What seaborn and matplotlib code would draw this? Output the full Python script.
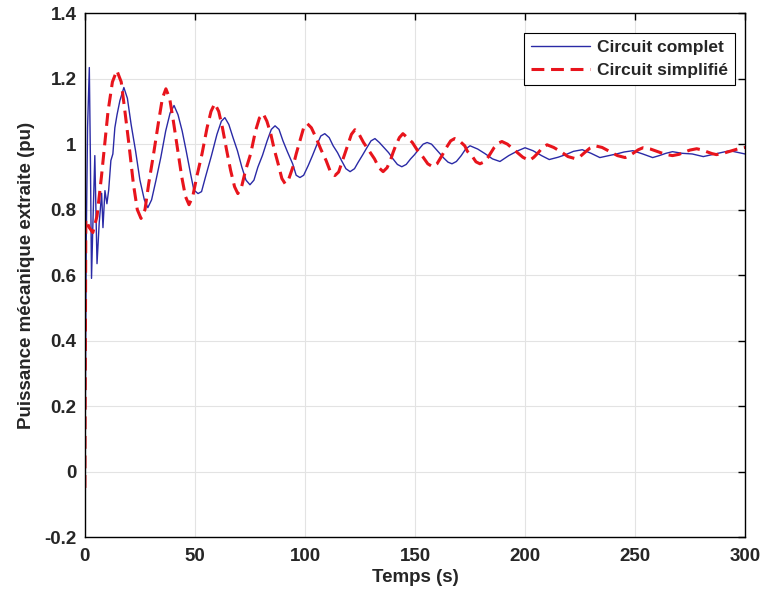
import numpy as np
import pandas as pd
import seaborn as sns
import matplotlib.pyplot as plt

# Circuit complet (blue, solid)
t_complet = [0.0, 0.6, 1.2, 2.0, 2.5, 3.0, 3.6, 4.5, 5.0, 5.5, 6.5, 7.6, 8.2, 9.1, 10.0, 10.8,
             11.8, 12.7, 13.6, 14.6, 15.9, 17.7, 19.3, 21.0, 23.0, 25.0, 27.0, 28.6, 30.3,
             32.3, 34.5, 36.7, 38.7, 40.5, 42.3, 44.2, 46.0, 48.0, 49.5, 51.4, 53.0, 54.8,
             57.5, 60.0, 62.0, 63.6, 65.4, 67.3, 69.3, 71.3, 73.2, 75.0, 76.8, 78.6, 80.7,
             82.8, 84.7, 86.4, 88.2, 90.0, 92.0, 94.4, 96.0, 97.7, 99.4, 101.5, 103.4, 105.2,
             107.2, 109.0, 111.0, 112.8, 114.8, 116.6, 118.6, 120.5, 122.5, 124.2, 126.2,
             128.2, 130.0, 131.8, 133.8, 135.8, 138.0, 140.0, 142.0, 144.0, 146.0, 148.0,
             149.8, 151.8, 153.7, 155.5, 157.5, 159.5, 161.2, 163.0, 165.0, 166.8, 168.8,
             171.0, 173.0, 175.0, 178.5, 181.8, 185.2, 188.6, 192.6, 196.8, 200.0, 203.6,
             207.5, 211.0, 215.0, 218.5, 222.0, 226.0, 230.0, 234.0, 238.0, 241.5, 245.0,
             249.0, 253.5, 258.0, 261.0, 264.0, 267.0, 271.5, 276.0, 281.0, 287.0, 293.0, 300.0]
p_complet = [-0.05, 0.70, 1.05, 1.234, 0.95, 0.59, 0.75, 0.965, 0.80, 0.635, 0.76, 0.85, 0.745,
             0.858, 0.818, 0.86, 0.95, 0.97, 1.05, 1.09, 1.133, 1.173, 1.14, 1.06, 0.98, 0.89,
             0.83, 0.806, 0.83, 0.89, 0.96, 1.04, 1.095, 1.118, 1.09, 1.04, 0.98, 0.91, 0.86,
             0.849, 0.855, 0.90, 0.965, 1.03, 1.07, 1.081, 1.06, 1.02, 0.98, 0.93, 0.89, 0.876,
             0.89, 0.93, 0.966, 1.01, 1.045, 1.056, 1.045, 1.01, 0.977, 0.94, 0.905, 0.898,
             0.905, 0.935, 0.965, 0.995, 1.025, 1.032, 1.02, 0.995, 0.974, 0.95, 0.925, 0.916,
             0.925, 0.945, 0.967, 0.99, 1.01, 1.017, 1.005, 0.99, 0.974, 0.955, 0.938, 0.931,
             0.938, 0.955, 0.968, 0.985, 1.0, 1.005, 1.0, 0.985, 0.972, 0.958, 0.945, 0.94,
             0.947, 0.965, 0.985, 0.995, 0.985, 0.971, 0.955, 0.947, 0.965, 0.98, 0.989, 0.98,
             0.965, 0.953, 0.96, 0.968, 0.978, 0.983, 0.972, 0.959, 0.965, 0.97, 0.976, 0.98,
             0.97, 0.959, 0.965, 0.972, 0.977, 0.972, 0.97, 0.962, 0.971, 0.98, 0.97]

# Circuit simplifie (red, dashed)
t_simple = [0.0, 0.4, 2.0, 3.6, 5.5, 7.5, 9.0, 10.5, 12.5, 14.5, 16.5, 18.0, 20.0, 22.0, 23.8,
            25.5, 27.3, 29.0, 31.2, 33.5, 35.2, 36.8, 38.5, 40.2, 42.0, 44.0, 45.7, 47.3, 49.0,
            50.8, 53.2, 55.5, 57.3, 59.0, 60.8, 62.5, 64.3, 66.2, 68.0, 69.5, 71.2, 73.0, 75.3,
            77.5, 79.3, 81.0, 82.7, 84.5, 86.0, 87.8, 89.5, 91.0, 92.7, 94.5, 96.0, 97.7, 99.4,
            101.0, 102.9, 105.0, 107.3, 109.6, 111.6, 113.6, 115.3, 116.8, 118.2, 119.6, 121.1,
            122.7, 124.6, 126.6, 129.1, 131.6, 133.6, 135.5, 137.3, 138.8, 140.0, 141.2, 142.9,
            144.5, 146.5, 148.8, 151.2, 153.7, 155.8, 158.0, 160.0, 161.8, 163.0, 164.3, 166.2,
            168.0, 170.2, 172.6, 173.8, 176.3, 177.7, 179.5, 181.5, 183.2, 184.5, 186.0, 187.8,
            189.5, 192.0, 195.7, 199.0, 202.0, 204.0, 206.0, 208.0, 210.0, 213.0, 216.3, 219.5,
            222.7, 225.0, 227.2, 229.5, 231.8, 235.0, 238.6, 242.0, 245.5, 247.5, 249.5, 251.5,
            253.6, 257.0, 260.3, 263.7, 267.0, 270.0, 272.5, 275.0, 278.0, 280.0, 282.5, 285.0,
            287.0, 290.0, 293.5, 297.0, 300.0]
p_simple = [-0.05, 0.77, 0.745, 0.73, 0.78, 0.90, 1.00, 1.10, 1.19, 1.225, 1.19, 1.11, 1.00,
            0.88, 0.80, 0.773, 0.80, 0.88, 0.97, 1.07, 1.14, 1.169, 1.14, 1.07, 0.99, 0.90,
            0.84, 0.815, 0.84, 0.90, 0.97, 1.05, 1.10, 1.124, 1.10, 1.05, 0.985, 0.92, 0.87,
            0.849, 0.87, 0.92, 0.97, 1.04, 1.08, 1.093, 1.07, 1.03, 0.985, 0.94, 0.895, 0.879,
            0.895, 0.93, 0.97, 1.01, 1.05, 1.063, 1.05, 1.02, 0.983, 0.95, 0.915, 0.904, 0.915,
            0.945, 0.974, 1.0, 1.03, 1.044, 1.03, 1.005, 0.98, 0.955, 0.928, 0.916, 0.928, 0.95,
            0.974, 0.995, 1.02, 1.032, 1.02, 1.005, 0.98, 0.96, 0.94, 0.931, 0.94, 0.96, 0.974,
            0.99, 1.01, 1.017, 1.01, 0.995, 0.978, 0.96, 0.946, 0.94, 0.946, 0.96, 0.974, 0.99,
            1.003, 1.008, 1.0, 0.979, 0.96, 0.95, 0.96, 0.974, 0.99, 0.998, 0.99, 0.977, 0.962,
            0.956, 0.962, 0.975, 0.988, 0.995, 0.99, 0.977, 0.965, 0.959, 0.965, 0.974, 0.983,
            0.989, 0.985, 0.977, 0.969, 0.965, 0.969, 0.976, 0.982, 0.986, 0.983, 0.977, 0.971,
            0.968, 0.972, 0.979, 0.986, 0.99]

x_ticks = [0, 50, 100, 150, 200, 250, 300]
y_ticks = [-0.2, 0, 0.2, 0.4, 0.6, 0.8, 1, 1.2, 1.4]
y_tick_labels = ['-0.2', '0', '0.2', '0.4', '0.6', '0.8', '1', '1.2', '1.4']

sns.set_style("whitegrid")
plt.rcParams['font.family'] = ['Liberation Sans', 'DejaVu Sans']

fig = plt.figure(figsize=(7.65, 6), dpi=100)
ax = fig.add_axes([0.111, 0.105, 0.863, 0.873])

sns.lineplot(x=t_complet, y=p_complet, ax=ax, color='#2a2aa6', linewidth=1.0,
             estimator=None, sort=False, label='Circuit complet')
sns.lineplot(x=t_simple, y=p_simple, ax=ax, color='#e8141c', linewidth=2.2,
             estimator=None, sort=False, label='Circuit simplifié')
ax.lines[1].set_dashes([4.2, 2.2])

ax.set_xlim(0, 300)
ax.set_ylim(-0.2, 1.4)
ax.set_xticks(x_ticks)
ax.set_yticks(y_ticks)
ax.set_yticklabels(y_tick_labels)
ax.grid(True, color='#e3e3e3', linewidth=0.8)
for s in ax.spines.values():
    s.set_color('black')
    s.set_linewidth(1.0)
ax.tick_params(direction='in', length=5, width=1, color='black', top=True, right=True,
               labelsize=13.5)
ax.tick_params(axis='x', pad=8)
ax.tick_params(axis='y', pad=6)
for lab in ax.get_xticklabels() + ax.get_yticklabels():
    lab.set_fontweight('bold')
ax.set_xlabel('Temps (s)', fontsize=13.5, fontweight='bold', labelpad=3)
ax.set_ylabel('Puissance mécanique extraite (pu)', fontsize=13.5, fontweight='bold', labelpad=7)

leg = ax.legend(loc='upper right', bbox_to_anchor=(0.985, 0.962), fontsize=12.5,
                frameon=True, fancybox=False, borderaxespad=0, handlelength=3.4,
                handletextpad=0.4, borderpad=0.4, labelspacing=0.45)
leg.get_frame().set_edgecolor('black')
leg.get_frame().set_linewidth(0.8)
leg.get_frame().set_alpha(1)
for txt in leg.get_texts():
    txt.set_fontweight('bold')

fig.savefig('out.png', dpi=100)
